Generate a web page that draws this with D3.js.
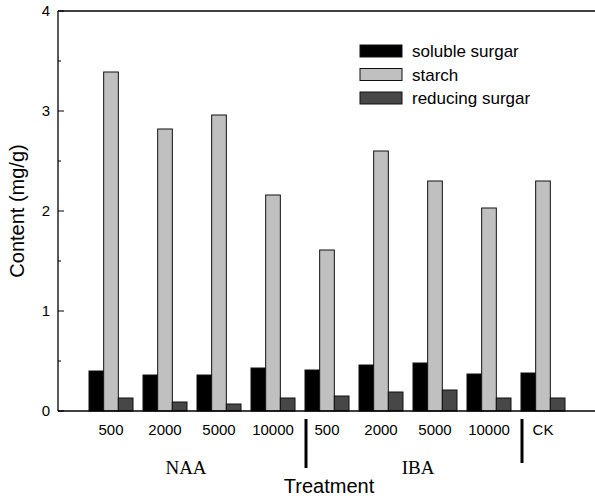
<!DOCTYPE html>
<html><head><meta charset="utf-8">
<script src="https://cdn.jsdelivr.net/npm/d3@7"></script>
<style>body{margin:0;background:#fff}svg{display:block}</style>
</head><body>
<script>
const categories = ["500","2000","5000","10000","500","2000","5000","10000","CK"];
const groupLabels = ["NAA","IBA"];
const seriesNames = ["soluble surgar","starch","reducing surgar"];
const soluble = [0.40,0.36,0.36,0.43,0.41,0.46,0.48,0.37,0.38];
const starch = [3.39,2.82,2.96,2.16,1.61,2.60,2.30,2.03,2.30];
const reducing = [0.13,0.09,0.07,0.13,0.15,0.19,0.21,0.13,0.13];
const yTicks = [0,1,2,3,4];
const colors = ["#000000","#c0c0c0","#474747"];

const W=595,H=499;
const svg=d3.select("body").append("svg").attr("width",W).attr("height",H);
const x0=58, x1=597, yTop=11, yBot=411;
const x=d3.scaleBand().domain(d3.range(categories.length)).range([89,565]).paddingInner(0.185).paddingOuter(0);
const y=d3.scaleLinear().domain([0,4]).range([yBot,yTop]);
const xs=d3.scaleBand().domain(d3.range(3)).range([0,x.bandwidth()]);
const series=[soluble,starch,reducing];
const sans="Liberation Sans, Arial, sans-serif";

series.forEach((vals,si)=>{
  svg.append("g").selectAll("rect").data(vals).enter().append("rect")
    .attr("x",(d,i)=>x(i)+xs(si))
    .attr("y",d=>y(d))
    .attr("width",xs.bandwidth())
    .attr("height",d=>yBot-y(d))
    .attr("fill",colors[si])
    .attr("stroke","#111").attr("stroke-width",1);
});

svg.append("line").attr("x1",x0).attr("x2",x1).attr("y1",yTop).attr("y2",yTop).attr("stroke","#000").attr("stroke-width",1.3);
svg.append("line").attr("x1",x0).attr("x2",x1).attr("y1",yBot).attr("y2",yBot).attr("stroke","#000").attr("stroke-width",1.3);
svg.append("line").attr("x1",x0).attr("x2",x0).attr("y1",yTop).attr("y2",yBot).attr("stroke","#000").attr("stroke-width",1.3);

const minor=d3.range(0.5,4,1);
svg.append("g").selectAll("line").data(yTicks).enter().append("line")
  .attr("x1",x0).attr("x2",x0+6).attr("y1",d=>y(d)).attr("y2",d=>y(d)).attr("stroke","#000");
svg.append("g").selectAll("line").data(minor).enter().append("line")
  .attr("x1",x0).attr("x2",x0+3).attr("y1",d=>y(d)).attr("y2",d=>y(d)).attr("stroke","#000");
svg.append("g").selectAll("text").data(yTicks).enter().append("text")
  .attr("x",x0-8).attr("y",d=>y(d)+5).attr("text-anchor","end")
  .attr("font-family",sans).attr("font-size",15).text(d=>d);

svg.append("g").selectAll("text").data(categories).enter().append("text")
  .attr("x",(d,i)=>x(i)+x.bandwidth()/2).attr("y",435).attr("text-anchor","middle")
  .attr("font-family",sans).attr("font-size",15).text(d=>d);

const sepAfter=[3,7];
const sepX=i=>x(i)+x.bandwidth()+x.step()*x.paddingInner()/2+6;
svg.append("g").selectAll("line").data(sepAfter).enter().append("line")
  .attr("x1",sepX).attr("x2",sepX)
  .attr("y1",419).attr("y2",(d,k)=>k===0?468:463)
  .attr("stroke","#000").attr("stroke-width",3);

const groupCenters=[(x(0)+x(3)+x.bandwidth())/2-6,(x(4)+x(7)+x.bandwidth())/2+10];
svg.append("g").selectAll("text").data(groupLabels).enter().append("text")
  .attr("x",(d,i)=>groupCenters[i]).attr("y",474).attr("text-anchor","middle")
  .attr("font-family","Liberation Serif, Times New Roman, serif").attr("font-size",19).text(d=>d);

svg.append("text").attr("x",329).attr("y",493).attr("text-anchor","middle")
  .attr("font-family",sans).attr("font-size",20).text("Treatment");
svg.append("text").attr("transform","translate(24,211) rotate(-90)").attr("text-anchor","middle")
  .attr("font-family",sans).attr("font-size",20).text("Content (mg/g)");

const lg=svg.append("g").attr("transform","translate(360,45)");
seriesNames.forEach((n,i)=>{
  lg.append("rect").attr("x",0).attr("y",i*23.5).attr("width",42).attr("height",12)
    .attr("fill",colors[i]).attr("stroke","#111").attr("stroke-width",1);
  lg.append("text").attr("x",52).attr("y",i*23.5+12).attr("font-family",sans)
    .attr("font-size",17).text(n);
});
</script>
</body></html>
